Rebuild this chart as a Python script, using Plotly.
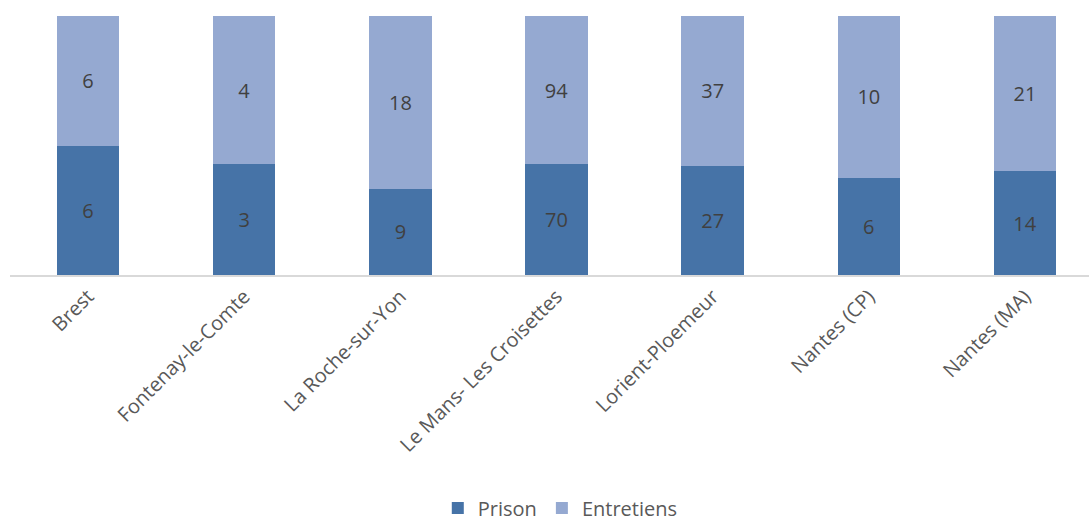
import plotly.graph_objects as go

categories = ["Brest", "Fontenay-le-Comte", "La Roche-sur-Yon", "Le Mans- Les Croisettes",
              "Lorient-Ploemeur", "Nantes (CP)", "Nantes (MA)"]
prison = [6, 3, 9, 70, 27, 6, 14]
entretiens = [6, 4, 18, 94, 37, 10, 21]

dark = "#4673A7"
light = "#95A9D1"
txt = "#404040"
font = "'Open Sans', sans-serif"

fig = go.Figure()
fig.add_trace(go.Bar(x=categories, y=prison, name="Prison", marker_color=dark,
                     marker_line_width=0, text=prison, textposition="inside",
                     insidetextanchor="middle", textangle=0,
                     textfont=dict(color=txt, size=20, family=font)))
fig.add_trace(go.Bar(x=categories, y=entretiens, name="Entretiens", marker_color=light,
                     marker_line_width=0, text=entretiens, textposition="inside",
                     insidetextanchor="middle", textangle=0,
                     textfont=dict(color=txt, size=20, family=font)))

fig.update_layout(
    barmode="stack", barnorm="percent", bargap=0.6,
    width=1089, height=522,
    margin=dict(l=10, r=0, t=16, b=247, autoexpand=False),
    plot_bgcolor="white", paper_bgcolor="white",
    font=dict(family=font, color=txt, size=20),
    legend=dict(orientation="h", x=0.51, xanchor="center", y=-0.9, yanchor="middle",
                itemwidth=30,
                font=dict(size=20, color="#595959", family=font), traceorder="normal"),
    xaxis=dict(range=[-0.5, 6.41], showline=True, linecolor="#D9D9D9", linewidth=2,
               tickangle=-45, tickfont=dict(size=20, color="#595959", family=font),
               ticks="", showgrid=False, automargin=False),
    yaxis=dict(range=[0, 100], visible=False, showgrid=False, automargin=False),
)

fig.write_html("out.html", config={"displayModeBar": False},
               post_script="document.body.style.margin='0';document.body.style.overflow='hidden';")
